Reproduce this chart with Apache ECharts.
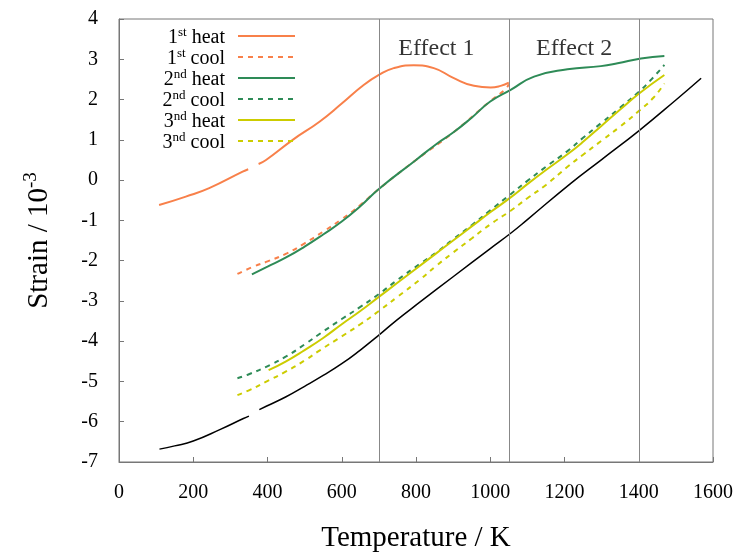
<!DOCTYPE html>
<html>
<head>
<meta charset="utf-8">
<script src="https://cdn.jsdelivr.net/npm/echarts@6/dist/echarts.min.js"></script>
<style>
html,body{margin:0;padding:0;background:#fff;}
#main{width:737px;height:553px;}
</style>
</head>
<body>
<div id="main"></div>
<script>
// [temperature K, strain 1e-3], '-' marks the gap between the two runs
var reference = [[109,-6.68],[150,-6.6],[200,-6.48],[273,-6.19],[335,-5.92],[350,-5.86],[362,'-'],[378,-5.7],[398,-5.61],[450,-5.38],[500,-5.12],
  [550,-4.85],[600,-4.56],[650,-4.22],[700,-3.85],[749,-3.47],[812,-3.02],[900,-2.4],[1000,-1.7],[1055,-1.32],[1100,-0.98],
  [1217,-0.08],[1300,0.51],[1401,1.23],[1500,1.99],[1568,2.53]];
var heat1 = [[108,-0.62],[180,-0.41],[243,-0.2],[333,0.21],[348,0.27],[360,'-'],[376,0.4],[396,0.5],[468,1.0],[540,1.45],[600,1.9],[659,2.36],
  [700,2.61],[740,2.78],[794,2.85],[848,2.78],[902,2.53],[956,2.34],[1001,2.3],[1028,2.34],[1050,2.42]];
var cool1 = [[319,-2.33],[362,-2.15],[400,-2.02],[452,-1.82],[500,-1.57],[550,-1.28],[600,-0.97],[650,-0.62],[700,-0.22],
  [800,0.5],[900,1.18],[1000,1.96],[1040,2.25],[1050,2.38]];
var heat2 = [[358,-2.34],[400,-2.15],[450,-1.92],[500,-1.65],[550,-1.35],[600,-1.03],[650,-0.65],[700,-0.22],[800,0.5],
  [857,0.91],[900,1.18],[950,1.55],[1000,1.95],[1055,2.24],[1118,2.57],[1208,2.75],[1298,2.83],[1343,2.9],[1406,3.02],[1469,3.08]];
var cool2 = [[319,-4.92],[350,-4.82],[398,-4.63],[450,-4.38],[500,-4.08],[542,-3.81],[600,-3.45],[650,-3.15],[700,-2.83],
  [750,-2.48],[812,-2.07],[857,-1.78],[900,-1.47],[950,-1.12],[1000,-0.75],[1055,-0.35],[1100,-0.02],[1150,0.33],[1208,0.72],
  [1250,1.05],[1298,1.41],[1350,1.8],[1401,2.2],[1433,2.49],[1469,2.86]];
var heat3 = [[403,-4.72],[450,-4.5],[500,-4.22],[550,-3.92],[600,-3.58],[650,-3.25],[700,-2.9],[750,-2.55],[800,-2.2],
  [850,-1.85],[900,-1.5],[950,-1.15],[1000,-0.8],[1055,-0.43],[1100,-0.1],[1150,0.25],[1208,0.64],[1250,0.95],[1300,1.35],
  [1350,1.75],[1401,2.15],[1469,2.61]];
var cool3 = [[319,-5.34],[350,-5.22],[398,-5.0],[450,-4.75],[500,-4.48],[542,-4.22],[600,-3.88],[650,-3.58],[700,-3.25],
  [750,-2.9],[812,-2.46],[857,-2.11],[900,-1.8],[950,-1.45],[1000,-1.1],[1055,-0.76],[1100,-0.45],[1150,-0.12],[1208,0.33],
  [1250,0.63],[1300,0.98],[1350,1.33],[1401,1.72],[1440,2.05],[1469,2.4]];
var effectLines = [700, 1050, 1400];
var effectLabels = [[855, 3.27, 'Effect 1'], [1226, 3.27, 'Effect 2']];
var legendNames = ['1st heat','1st cool','2nd heat','2nd cool','3nd heat','3nd cool'];
var legendRich = {
  '1st heat': '{n|1}{s|st}{n| heat}', '1st cool': '{n|1}{s|st}{n| cool}',
  '2nd heat': '{n|2}{s|nd}{n| heat}', '2nd cool': '{n|2}{s|nd}{n| cool}',
  '3nd heat': '{n|3}{s|nd}{n| heat}', '3nd cool': '{n|3}{s|nd}{n| cool}'
};

var font = 'Liberation Serif';
var orange = '#f8804a', green = '#2e8b57', yellow = '#cccc00';

function curve(name, data, color, dashed, width) {
  return {
    name: name, type: 'line', data: data, smooth: true, symbol: 'none',
    connectNulls: false,
    lineStyle: {color: color, width: width || 2, type: dashed ? [5, 5] : 'solid'},
    itemStyle: {color: color}
  };
}

var myChart = echarts.init(document.getElementById('main'));
var option = {
  animation: false,
  grid: {left: 119, top: 19, right: 24, bottom: 91, show: true, borderColor: '#777', borderWidth: 1, outerBoundsMode: 'none'},
  legend: {
    data: legendNames, orient: 'vertical', align: 'right', right: 441, top: 24, padding: 0, itemGap: -3,
    itemWidth: 57, itemHeight: 14, selectedMode: false,
    itemStyle: {opacity: 0},
    formatter: function (name) { return legendRich[name]; },
    textStyle: {
      fontFamily: font, fontSize: 20, color: '#000', padding: [0, 8, 0, 0],
      rich: {
        n: {fontFamily: font, fontSize: 20, lineHeight: 20, padding: [4, 0, 0, 0], color: '#000'},
        s: {fontFamily: font, fontSize: 13, lineHeight: 13, verticalAlign: 'top', color: '#000'}
      }
    }
  },
  xAxis: {
    type: 'value', min: 0, max: 1600, interval: 200,
    name: 'Temperature / K', nameLocation: 'middle', nameGap: 62,
    nameTextStyle: {fontFamily: font, fontSize: 29, color: '#000'},
    axisLine: {onZero: false, lineStyle: {color: '#777'}},
    axisTick: {inside: true, length: 5, lineStyle: {color: '#777'}},
    axisLabel: {fontFamily: font, fontSize: 20, color: '#000', margin: 21, formatter: function (v) { return String(v); }},
    splitLine: {show: false}
  },
  yAxis: {
    type: 'value', min: -7, max: 4, interval: 1,
    name: '{n|Strain / 10}{s|-3}', nameLocation: 'middle', nameGap: 68,
    nameTextStyle: {
      fontFamily: font, fontSize: 29, color: '#000',
      rich: {
        n: {fontFamily: font, fontSize: 29, lineHeight: 29, padding: [5, 0, 0, 0], color: '#000'},
        s: {fontFamily: font, fontSize: 19, lineHeight: 19, verticalAlign: 'top', color: '#000'}
      }
    },
    axisLine: {onZero: false, lineStyle: {color: '#777'}},
    axisTick: {inside: true, length: 5, lineStyle: {color: '#777'}},
    axisLabel: {fontFamily: font, fontSize: 20, color: '#000', margin: 21},
    splitLine: {show: false}
  },
  series: [
    {
      name: 'reference', type: 'line', data: reference, smooth: true, symbol: 'none', connectNulls: false,
      lineStyle: {color: '#000', width: 1.5}, itemStyle: {color: '#000'}, z: 1,
      markLine: {
        silent: true, symbol: 'none', label: {show: false},
        lineStyle: {color: '#888', width: 1, type: 'solid'},
        data: effectLines.map(function (t) { return {xAxis: t}; })
      }
    },
    curve('1st heat', heat1, orange, false),
    curve('1st cool', cool1, orange, true),
    curve('2nd heat', heat2, green, false),
    curve('2nd cool', cool2, green, true),
    curve('3nd heat', heat3, yellow, false),
    curve('3nd cool', cool3, yellow, true),
    {
      name: 'effects', type: 'scatter', data: effectLabels, symbolSize: 0, silent: true,
      label: {
        show: true, position: 'inside', fontFamily: font, fontSize: 24, color: '#000',
        formatter: function (p) { return p.value[2]; }
      }
    }
  ]
};
myChart.setOption(option);
</script>
</body>
</html>
